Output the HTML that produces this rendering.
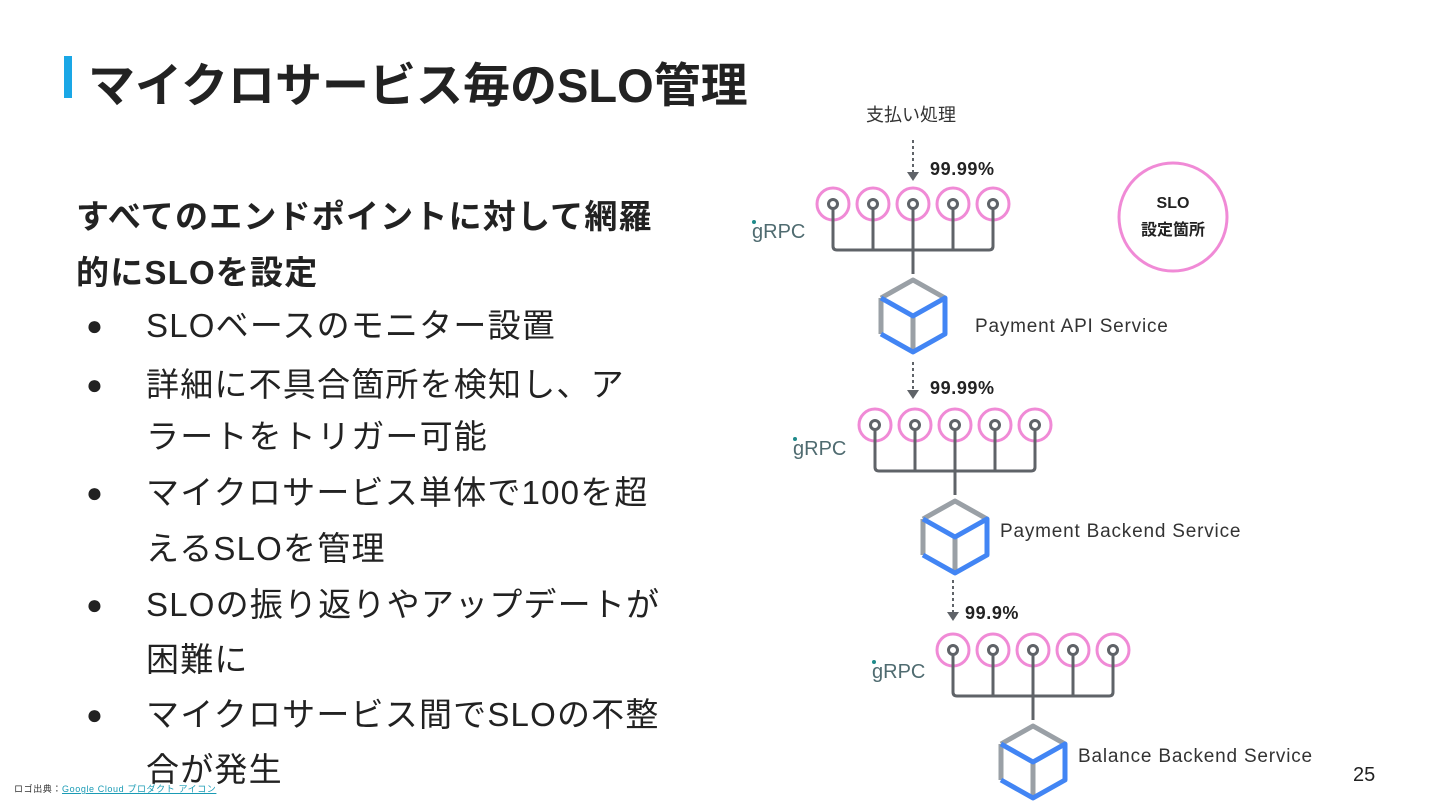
<!DOCTYPE html>
<html><head><meta charset="utf-8"><style>
body{margin:0;width:1440px;height:810px;background:#fff;overflow:hidden;position:relative;font-family:"Liberation Sans","Noto Sans CJK JP",sans-serif;color:#222}
.t{position:absolute}
</style></head><body>
<div class="t" style="left:64px;top:56px;width:8px;height:42px;background:#1aa7e6"></div>
<div class="t" style="left:88px;top:47px;font-size:47px;font-weight:bold;color:#222;letter-spacing:0px">マイクロサービス毎のSLO管理</div>
<div class="t" style="left:76px;top:189px;font-size:33px;font-weight:bold;line-height:56px;width:640px;letter-spacing:1.2px">すべてのエンドポイントに対して網羅<br>的にSLOを設定</div>
<div class="t" style="left:86px;top:299px;font-size:33px;line-height:54px;letter-spacing:1.2px">
<div style="position:relative;padding-left:60px;width:560px">
<div style="position:absolute;left:0;font-size:28px">●</div>SLOベースのモニター設置</div>
<div style="position:relative;padding-left:60px;width:560px;line-height:52px;margin-top:6px">
<div style="position:absolute;left:0;font-size:28px">●</div>詳細に不具合箇所を検知し、ア<br>ラートをトリガー可能</div>
<div style="position:relative;padding-left:60px;width:560px;line-height:56px;margin-top:2px">
<div style="position:absolute;left:0;font-size:28px">●</div>マイクロサービス単体で100を超<br>えるSLOを管理</div>
<div style="position:relative;padding-left:60px;width:560px;line-height:55px;margin-top:0px">
<div style="position:absolute;left:0;font-size:28px">●</div>SLOの振り返りやアップデートが<br>困難に</div>
<div style="position:relative;padding-left:60px;width:560px;line-height:55px">
<div style="position:absolute;left:0;font-size:28px">●</div>マイクロサービス間でSLOの不整<br>合が発生</div>
</div>
<div class="t" style="left:14px;top:782px;font-size:9px;color:#333;letter-spacing:0.6px">ロゴ出典：<span style="color:#1a9bb5;text-decoration:underline">Google Cloud プロダクト アイコン</span></div>
<div class="t" style="left:1353px;top:764px;font-size:20px">25</div>
<svg class="t" style="left:0;top:0" width="1440" height="810" font-family="Liberation Sans, Noto Sans CJK JP, sans-serif">
<defs>
<g id="grp">
<g fill="none" stroke="#f08ad6" stroke-width="3">
<circle cx="0" cy="0" r="16"/><circle cx="40" cy="0" r="16"/><circle cx="80" cy="0" r="16"/><circle cx="120" cy="0" r="16"/><circle cx="160" cy="0" r="16"/></g>
<g fill="none" stroke="#5f6368" stroke-width="3">
<circle cx="0" cy="0" r="4.5"/><circle cx="40" cy="0" r="4.5"/><circle cx="80" cy="0" r="4.5"/><circle cx="120" cy="0" r="4.5"/><circle cx="160" cy="0" r="4.5"/>
<path d="M0 5V42Q0 46 4 46H156Q160 46 160 42V5M40 5V46M80 5V70M120 5V46"/></g>
<g fill="none" stroke-width="5" stroke-linejoin="round">
<path d="M48 94L80 76L112 94M48 94V130M80 112V148" stroke="#9aa0a6"/>
<path d="M48 94L80 112L112 94V130L80 148L48 130" stroke="#4285f4"/>
</g>
</g>
</defs>
<text x="866" y="121" font-size="18" fill="#333">支払い処理</text>
<g stroke="#5f6368" stroke-width="2" stroke-dasharray="3 3"><path d="M913 140V172M913 362V390M953 580V612"/></g>
<g fill="#5f6368"><path d="M907 172h12l-6 9z M907 390h12l-6 9z M947 612h12l-6 9z"/></g>
<g font-weight="bold" font-size="18" fill="#222" letter-spacing="0.6"><text x="930" y="175">99.99%</text><text x="930" y="394">99.99%</text><text x="965" y="619">99.9%</text></g>
<use href="#grp" x="833" y="204"/>
<use href="#grp" x="875" y="425"/>
<use href="#grp" x="953" y="650"/>
<g font-size="19" fill="#333" letter-spacing="0.8"><text x="975" y="332">Payment API Service</text><text x="1000" y="537">Payment Backend Service</text><text x="1078" y="762">Balance Backend Service</text></g>
<g font-size="20" fill="#4f6b70"><text x="752" y="238">gRPC</text><text x="793" y="455">gRPC</text><text x="872" y="678">gRPC</text></g>
<g fill="#1f8a8a"><circle cx="754" cy="222" r="2"/><circle cx="795" cy="439" r="2"/><circle cx="874" cy="662" r="2"/></g>
<circle cx="1173" cy="217" r="54" fill="none" stroke="#f08ad6" stroke-width="3"/>
<g font-weight="bold" font-size="16" fill="#222" text-anchor="middle"><text x="1173" y="208">SLO</text><text x="1173" y="235">設定箇所</text></g>
</svg>
</body></html>
